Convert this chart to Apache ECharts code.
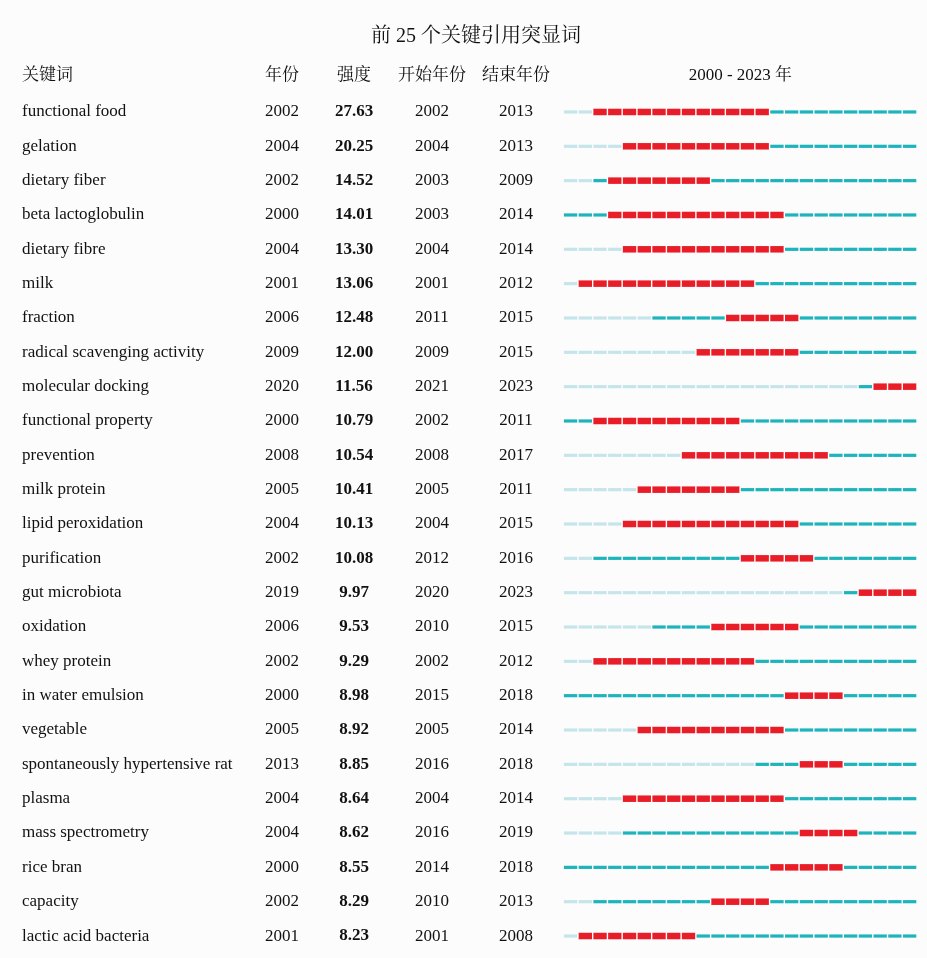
<!DOCTYPE html>
<html>
<head>
<meta charset="utf-8">
<script src="https://cdn.jsdelivr.net/npm/echarts@6/dist/echarts.min.js"></script>
<style>
html,body{margin:0;padding:0;background:#fcfcfc;}
#c{width:927px;height:958px;}
</style>
</head>
<body>
<div id="c"></div>
<script>
const keywords = ["functional food","gelation","dietary fiber","beta lactoglobulin","dietary fibre","milk","fraction","radical scavenging activity","molecular docking","functional property","prevention","milk protein","lipid peroxidation","purification","gut microbiota","oxidation","whey protein","in water emulsion","vegetable","spontaneously hypertensive rat","plasma","mass spectrometry","rice bran","capacity","lactic acid bacteria"];
const years = [2002,2004,2002,2000,2004,2001,2006,2009,2020,2000,2008,2005,2004,2002,2019,2006,2002,2000,2005,2013,2004,2004,2000,2002,2001];
const strengths = ["27.63","20.25","14.52","14.01","13.30","13.06","12.48","12.00","11.56","10.79","10.54","10.41","10.13","10.08","9.97","9.53","9.29","8.98","8.92","8.85","8.64","8.62","8.55","8.29","8.23"];
const begins = [2002,2004,2003,2003,2004,2001,2011,2009,2021,2002,2008,2005,2004,2012,2020,2010,2002,2015,2005,2016,2004,2016,2014,2010,2001];
const ends = [2013,2013,2009,2014,2014,2012,2015,2015,2023,2011,2017,2011,2015,2016,2023,2015,2012,2018,2014,2018,2014,2019,2018,2013,2008];
const rangeStart = 2000, rangeEnd = 2023;
const titleText = "前 25 个关键引用突显词";
const headers = ["关键词","年份","强度","开始年份","结束年份","2000 - 2023 年"];

const SERIF = "'Liberation Serif','Times New Roman','Noto Serif CJK SC','Noto Sans CJK SC',serif";
const COLORS = {light:'#c6e5eb', teal:'#1db4bb', red:'#e91d27'};

const cells = [];
keywords.forEach((k,i)=>{
  for(let y=rangeStart;y<=rangeEnd;y++){
    let t = y<years[i] ? 'light' : (y>=begins[i] && y<=ends[i] ? 'red' : 'teal');
    cells.push([y, i, t]);
  }
});
const rows = keywords.map((k,i)=>[i]);

const colX = {kw:22, year:282, str:354, begin:432, end:516};
const FS = 17;

const chart = echarts.init(document.getElementById('c'), null, {renderer:'canvas'});
const TOP = 94.8, BOTTOM = 4.8;
chart.setOption({
  backgroundColor:'#fcfcfc',
  animation:false,
  grid:[
    {left:0, width:560, top:TOP, bottom:BOTTOM},
    {left:563.5, right:9.7, top:TOP, bottom:BOTTOM}
  ],
  xAxis:[
    {gridIndex:0, type:'value', min:0, max:560, show:false},
    {gridIndex:1, type:'value', min:rangeStart, max:rangeEnd+1, show:false}
  ],
  yAxis:[
    {gridIndex:0, type:'category', data:keywords, inverse:true, show:false},
    {gridIndex:1, type:'category', data:keywords, inverse:true, show:false}
  ],
  series:[
    {
      type:'custom', xAxisIndex:0, yAxisIndex:0, data:rows,
      renderItem:function(params, api){
        const i = api.value(0);
        const yc = api.coord([0, i])[1];
        const mk = (txt, xv, align, bold)=>({
          type:'text',
          style:{text:txt, x:api.coord([xv,i])[0], y:yc, textAlign:align, textVerticalAlign:'middle',
                 font:(bold?'bold ':'')+FS+'px '+SERIF, fill:'#111'}
        });
        return {type:'group', children:[
          mk(keywords[i], colX.kw, 'left', false),
          mk(String(years[i]), colX.year, 'center', false),
          mk(strengths[i], colX.str, 'center', true),
          mk(String(begins[i]), colX.begin, 'center', false),
          mk(String(ends[i]), colX.end, 'center', false)
        ]};
      }
    },
    {
      type:'custom', xAxisIndex:1, yAxisIndex:1, data:cells,
      renderItem:function(params, api){
        const y = api.value(0), i = api.value(1);
        const t = cells[params.dataIndex][2];
        const p0 = api.coord([y, i]);
        const p1 = api.coord([y+1, i]);
        const h = t==='red' ? 6.5 : 3.2;
        return {type:'rect', shape:{x:p0[0]+0.4, y:p0[1]-h/2, width:p1[0]-p0[0]-1.4, height:h},
                style:{fill:COLORS[t]}};
      }
    }
  ]
});

const headerY = 76;
const tx = (v)=>chart.convertToPixel({xAxisIndex:0}, v);
const hx = [tx(colX.kw), tx(colX.year), tx(colX.str), tx(colX.begin), tx(colX.end),
            (chart.convertToPixel({xAxisIndex:1}, rangeStart) + chart.convertToPixel({xAxisIndex:1}, rangeEnd+1))/2];
const g = [{type:'text', style:{text:titleText, x:476, y:37, textAlign:'center', textVerticalAlign:'middle', font:"20px "+SERIF, fill:'#111'}}];
headers.forEach((h,k)=>{
  g.push({type:'text', style:{text:h, x:hx[k], y:headerY, textAlign:k===0?'left':'center', textVerticalAlign:'middle', font:FS+'px '+SERIF, fill:'#111'}});
});
chart.setOption({graphic:g});
</script>
</body>
</html>
